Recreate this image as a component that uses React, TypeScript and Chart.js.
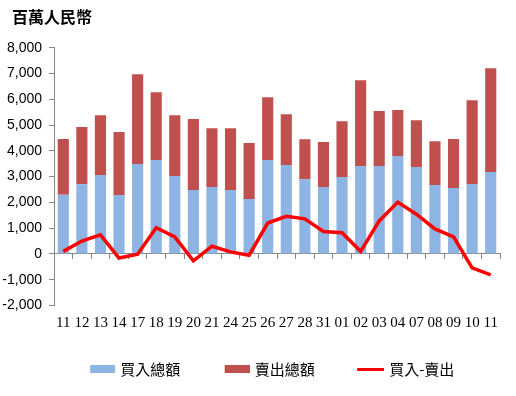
import React, { useEffect, useRef } from "react";
import { Chart, registerables } from "chart.js";

Chart.register(...registerables);

const categories = ["11", "12", "13", "14", "17", "18", "19", "20", "21", "24", "25", "26", "27", "28", "31", "01", "02", "03", "04", "07", "08", "09", "10", "11"];
const buyTotal = [2300, 2700, 3060, 2290, 3490, 3640, 3020, 2480, 2600, 2480, 2130, 3640, 3450, 2900, 2600, 2980, 3410, 3410, 3800, 3370, 2670, 2560, 2710, 3180];
const sellTotal = [2160, 2220, 2320, 2440, 3480, 2630, 2360, 2750, 2280, 2400, 2170, 2440, 1970, 1550, 1740, 2170, 3330, 2130, 1780, 1820, 1700, 1900, 3250, 4020];
const netBuy = [100, 500, 740, -160, -10, 1020, 660, -270, 300, 80, -50, 1200, 1460, 1360, 870, 820, 100, 1280, 2010, 1540, 970, 660, -540, -810];
const yTicks = { min: -2000, max: 8000, step: 1000 };
const seriesNames = ["買入總額", "賣出總額", "買入-賣出"];
const titleText = "百萬人民幣";

const BLUE = "#8DB4E2";
const RED = "#C0504D";
const LINE = "#FF0000";
const AXIS = "#868686";

function makeSwatch(kind: "box" | "line", color: string): HTMLCanvasElement {
  const c = document.createElement("canvas");
  c.width = 72;
  c.height = 8;
  const g = c.getContext("2d")!;
  g.fillStyle = color;
  if (kind === "box") g.fillRect(47, 0, 25, 8);
  else g.fillRect(45, 3, 27, 3);
  return c;
}

const cornerTitle = {
  id: "cornerTitle",
  afterDraw(chart: any) {
    const ctx = chart.ctx;
    ctx.save();
    ctx.fillStyle = "#000";
    ctx.font = "bold 16px 'Noto Sans CJK TC'";
    ctx.textAlign = "left";
    ctx.textBaseline = "middle";
    ctx.fillText(titleText, 12, 16.6);
    ctx.restore();
  },
};

export default function App() {
  const ref = useRef<HTMLCanvasElement>(null);
  useEffect(() => {
    if (!ref.current) return;
    const swatches = [makeSwatch("box", BLUE), makeSwatch("box", RED), makeSwatch("line", LINE)];
    const chart = new Chart(ref.current, {
      type: "bar",
      data: {
        labels: categories,
        datasets: [
          { type: "bar", label: seriesNames[0], data: buyTotal, backgroundColor: BLUE, stack: "bars", order: 2, xAxisID: "x", yAxisID: "y", barPercentage: 0.6, categoryPercentage: 1 },
          { type: "bar", label: seriesNames[1], data: sellTotal, backgroundColor: RED, stack: "bars", order: 2, xAxisID: "x", yAxisID: "y", barPercentage: 0.6, categoryPercentage: 1 },
          { type: "line", label: seriesNames[2], data: netBuy, borderColor: LINE, backgroundColor: LINE, borderWidth: 3.5, pointRadius: 0, tension: 0, stack: "net", order: 0, xAxisID: "x", yAxisID: "y" } as any,
        ],
      },
      plugins: [cornerTitle],
      options: {
        animation: false,
        responsive: false,
        layout: { padding: { left: 0, right: 16, top: 47.7, bottom: 9.5 } },
        scales: {
          x: {
            type: "category",
            stacked: true,
            offset: true,
            grid: { display: false, drawTicks: false },
            border: { display: false },
            ticks: { color: "#000", font: { family: "Liberation Serif", size: 15 }, padding: 8.5, maxRotation: 0, autoSkip: false },
            afterFit: (s: any) => { s.height = 56; },
          },
          x2: {
            type: "category",
            axis: "x",
            position: { y: 0 } as any,
            offset: true,
            grid: { display: true, drawOnChartArea: false, drawTicks: true, tickLength: 5, color: AXIS, offset: true },
            border: { display: true, color: AXIS, width: 1 },
            ticks: { display: false },
          },
          y: {
            stacked: true,
            min: yTicks.min,
            max: yTicks.max,
            ticks: {
              stepSize: yTicks.step,
              color: "#000",
              font: { family: "Liberation Sans", size: 14 },
              padding: 7,
              callback: (v: any) => Number(v).toLocaleString("en-US"),
            },
            grid: { display: true, drawOnChartArea: false, drawTicks: true, tickLength: 5, color: AXIS },
            border: { display: true, color: AXIS, width: 1 },
            afterFit: (s: any) => { s.width = 54; },
          },
        },
        plugins: {
          tooltip: { enabled: false },
          title: { display: false },
          legend: {
            display: true,
            position: "bottom",
            labels: {
              usePointStyle: true,
              pointStyleWidth: 67,
              padding: 0,
              color: "#000",
              font: { family: "Noto Sans CJK TC", size: 15 },
              generateLabels: (c: any) =>
                c.data.datasets.map((ds: any, i: number) => ({
                  text: ds.label,
                  pointStyle: swatches[i],
                  datasetIndex: i,
                  hidden: false,
                  lineWidth: 0,
                  fillStyle: "rgba(0,0,0,0)",
                  strokeStyle: "rgba(0,0,0,0)",
                  fontColor: "#000",
                })),
            },
          },
        },
      },
    });
    return () => chart.destroy();
  }, []);
  return (
    <div style={{ position: "fixed", left: 0, top: 0, width: 516, height: 396, background: "#fff" }}>
      <canvas ref={ref} width={516} height={396} />
    </div>
  );
}
